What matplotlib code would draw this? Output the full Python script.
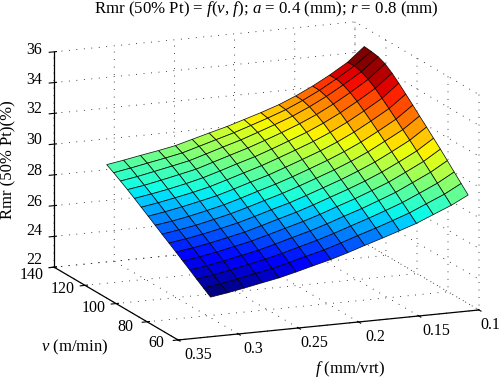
import matplotlib
matplotlib.use('Agg')
import matplotlib.pyplot as plt
import numpy as np
from mpl_toolkits.mplot3d import proj3d

# values, rows go with cutting speed, columns with feed
feed = [0.314, 0.300, 0.286, 0.271, 0.257, 0.243, 0.229, 0.214,
        0.200, 0.186, 0.171, 0.157, 0.143, 0.129, 0.114, 0.100]
speed = [67, 71.5, 76, 80.4, 84.9, 89.3, 93.8, 98.3,
         102.7, 107.2, 111.7, 116.1, 120.6, 125.1, 129.5, 134]
rmr = [
    [24.09, 24.26, 24.46, 24.69, 24.90, 25.17, 25.46, 25.76, 26.09, 26.45, 26.82, 27.18, 27.55, 28.01, 28.50, 29.06],
    [24.41, 24.58, 24.78, 25.02, 25.23, 25.51, 25.81, 26.11, 26.45, 26.82, 27.19, 27.57, 27.96, 28.44, 28.95, 29.54],
    [24.73, 24.90, 25.10, 25.34, 25.57, 25.85, 26.15, 26.47, 26.81, 27.18, 27.57, 27.96, 28.37, 28.86, 29.40, 30.02],
    [25.06, 25.22, 25.42, 25.67, 25.90, 26.19, 26.50, 26.82, 27.17, 27.55, 27.94, 28.35, 28.77, 29.29, 29.85, 30.50],
    [25.38, 25.54, 25.74, 25.99, 26.23, 26.53, 26.84, 27.17, 27.52, 27.91, 28.31, 28.73, 29.17, 29.70, 30.29, 30.98],
    [25.70, 25.86, 26.06, 26.31, 26.55, 26.86, 27.18, 27.51, 27.87, 28.26, 28.67, 29.09, 29.56, 30.10, 30.71, 31.43],
    [26.02, 26.18, 26.38, 26.63, 26.88, 27.19, 27.52, 27.85, 28.22, 28.61, 29.03, 29.47, 29.95, 30.51, 31.14, 31.89],
    [26.33, 26.50, 26.69, 26.95, 27.21, 27.52, 27.85, 28.20, 28.57, 28.96, 29.39, 29.84, 30.34, 30.92, 31.56, 32.34],
    [26.65, 26.81, 27.01, 27.27, 27.53, 27.85, 28.19, 28.54, 28.91, 29.31, 29.75, 30.21, 30.72, 31.31, 31.98, 32.79],
    [26.97, 27.15, 27.36, 27.61, 27.86, 28.18, 28.52, 28.87, 29.26, 29.66, 30.10, 30.57, 31.10, 31.71, 32.40, 33.24],
    [27.29, 27.47, 27.68, 27.92, 28.18, 28.51, 28.85, 29.21, 29.60, 30.00, 30.45, 30.93, 31.48, 32.10, 32.81, 33.68],
    [27.60, 27.78, 27.98, 28.23, 28.50, 28.83, 29.18, 29.53, 29.92, 30.33, 30.78, 31.27, 31.83, 32.46, 33.19, 34.08],
    [27.91, 28.08, 28.30, 28.55, 28.79, 29.13, 29.47, 29.83, 30.21, 30.61, 31.07, 31.56, 32.13, 32.77, 33.51, 34.42],
    [28.20, 28.38, 28.60, 28.84, 29.07, 29.40, 29.74, 30.09, 30.47, 30.86, 31.30, 31.80, 32.36, 33.00, 33.74, 34.62],
    [28.48, 28.67, 28.88, 29.10, 29.32, 29.64, 29.96, 30.30, 30.66, 31.03, 31.46, 31.95, 32.50, 33.13, 33.87, 34.70],
    [28.74, 28.92, 29.12, 29.32, 29.53, 29.83, 30.13, 30.44, 30.78, 31.12, 31.52, 31.98, 32.51, 33.11, 33.83, 34.75],
]
f_ticks = [0.1, 0.15, 0.2, 0.25, 0.3, 0.35]
f_labels = ['0.1', '0.15', '0.2', '0.25', '0.3', '0.35']
v_ticks = [60, 80, 100, 120, 140]
z_ticks = [22, 24, 26, 28, 30, 32, 34, 36]

plt.rcParams['font.family'] = ['Liberation Serif', 'DejaVu Serif']
plt.rcParams['mathtext.fontset'] = 'custom'
plt.rcParams['mathtext.rm'] = 'Liberation Serif'
plt.rcParams['mathtext.it'] = 'Liberation Serif:italic'
plt.rcParams['grid.color'] = 'black'
plt.rcParams['grid.linewidth'] = 0.6
plt.rcParams['grid.linestyle'] = (0, (1, 8))

fig = plt.figure(figsize=(5, 3.78), dpi=100)
# big square axes so the surface is not clipped at the sides
ax = fig.add_axes([-0.001, -0.185, 1.04, 1.3757], projection='3d', proj_type='ortho')
ax.view_init(elev=14, azim=-112.4)
ax.set_box_aspect((325, 325, 221.6), zoom=0.954)

F, V = np.meshgrid(feed, speed)
ax.plot_surface(F, V, np.array(rmr), rstride=1, cstride=1, cmap='jet',
                edgecolor=(0, 0, 0, 0.9), linewidth=0.55, shade=False)

ax.set_xlim(0.35, 0.1)
ax.set_ylim(60, 140)
ax.set_zlim(22, 36)
ax.set_xticks(f_ticks)
ax.set_xticklabels([])
ax.set_yticks(v_ticks)
ax.set_yticklabels([])
ax.set_zticks(z_ticks)
ax.set_zticklabels([])

for axis in (ax.xaxis, ax.yaxis, ax.zaxis):
    axis.set_pane_color((1, 1, 1, 0))
    axis.pane.set_edgecolor((1, 1, 1, 0))
    axis.line.set_linewidth(0.9)


def tick_label(label, x, y, z, dx, dy):
    # label placed dx, dy pixels away from where the tick meets the axis
    px, py, _ = proj3d.proj_transform(x, y, z, ax.get_proj())
    ax.annotate(label, xy=(px, py), xytext=(dx * 0.72, dy * 0.72), textcoords='offset points',
                ha='center', va='center', fontsize=11.5, annotation_clip=False)


for tick, label, dx in zip(f_ticks, f_labels, [11, 17, 17, 16, 15, 20]):
    tick_label(label, tick, 60, 22, dx, -15)
for tick, dy in zip(v_ticks, [-3, -5, -4, -4, -8]):
    tick_label(str(tick), 0.35, tick, 22, -22, dy)
for tick, dy in zip(z_ticks, [7, 5, 4, 4, 4, 4, 3, 2]):
    tick_label(str(tick), 0.35, 140, tick, -20, dy)

fig.text(0.533, 0.976, r'Rmr (50% Pt) = $f$($v$, $f$); $a$ = 0.4 (mm); $r$ = 0.8 (mm)',
         ha='center', va='center', fontsize=12.2)
fig.text(0.017, 0.579, 'Rmr (50% Pt)(%)', rotation=90, ha='center', va='center', fontsize=12)
fig.text(0.15, 0.082, r'$v$ (m/min)', ha='center', va='center', fontsize=12)
fig.text(0.70, 0.024, r'$f$ (mm/vrt)', ha='center', va='center', fontsize=12)

fig.savefig('out.png', dpi=100)
